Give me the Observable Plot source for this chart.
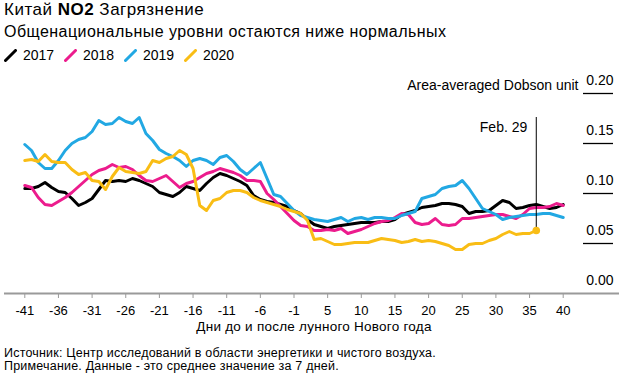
<!DOCTYPE html>
<html><head><meta charset="utf-8">
<script src="https://cdn.jsdelivr.net/npm/d3@7"></script>
<script src="https://cdn.jsdelivr.net/npm/@observablehq/plot@0.6"></script>
<style>
body{margin:0;background:#fff;font-family:"Liberation Sans",Arial,sans-serif;color:#000;}
#wrap{position:relative;width:622px;height:378px;overflow:hidden;background:#fff;}
.t{position:absolute;white-space:nowrap;}
#legend{width:260px;height:18px;}
#legend .item{position:absolute;top:0;display:flex;align-items:center;height:18px;}
#legend svg{margin-right:6px;}
</style></head><body>
<div id="wrap">
<div class="t" style="left:4px;top:0px;font-size:17px;line-height:20px;letter-spacing:0.5px;">Китай <b>NO2</b> Загрязнение</div>
<div class="t" style="left:4px;top:22px;font-size:16px;line-height:20px;letter-spacing:0.45px;">Общенациональные уровни остаются ниже нормальных</div>
<div class="t" id="legend" style="left:0px;top:46px;font-size:14px;line-height:18px;"></div>
<div id="chart" style="position:absolute;left:0;top:66px;"></div>
<div class="t" id="xlabel" style="left:314px;top:319px;transform:translateX(-50%);font-size:13.5px;line-height:16px;letter-spacing:0.25px;"></div>
<div class="t" id="note1" style="left:4px;top:346px;font-size:12.5px;line-height:14px;letter-spacing:0.2px;"></div>
<div class="t" id="note2" style="left:4px;top:359px;font-size:12.5px;line-height:14px;letter-spacing:0.2px;"></div>
</div>
<script>
const years = ["2017", "2018", "2019", "2020"];
const colors = ["#000000", "#ec1c8d", "#22a8e3", "#f9bd15"];
const days = [-41,-40,-39,-38,-37,-36,-35,-34,-33,-32,-31,-30,-29,-28,-27,-26,-25,-24,-23,-22,-21,-20,-19,-18,-17,-16,-15,-14,-13,-12,-11,-10,-9,-8,-7,-6,-5,-4,-3,-2,-1,
  1,2,3,4,5,6,7,8,9,10,11,12,13,14,15,16,17,18,19,20,21,22,23,24,25,26,27,28,29,30,31,32,33,34,35,36,37,38,39,40];
const v2017 = [.105,.105,.107,.111,.106,.102,.101,.095,.088,.091,.095,.104,.113,.112,.113,.112,.115,.113,.110,.107,.101,.099,.097,.101,.107,.105,.103,.110,.116,.120,.118,.115,.112,.108,.098,.094,.092,.091,.089,.087,.083,
  .080,.074,.069,.067,.065,.067,.068,.069,.070,.071,.071,.071,.072,.072,.074,.079,.081,.083,.086,.087,.088,.090,.090,.089,.087,.080,.082,.082,.083,.088,.093,.091,.085,.086,.088,.089,.087,.085,.086,.089];
const v2018 = [.108,.106,.096,.089,.088,.092,.096,.101,.107,.113,.119,.123,.125,.129,.126,.127,.124,.118,.113,.112,.115,.118,.112,.106,.110,.112,.116,.120,.122,.125,.123,.121,.118,.113,.113,.112,.100,.094,.087,.080,.073,
  .068,.067,.063,.063,.064,.063,.065,.060,.062,.064,.067,.070,.072,.073,.076,.080,.079,.071,.069,.070,.075,.069,.068,.069,.075,.075,.076,.077,.078,.079,.079,.077,.075,.079,.085,.086,.086,.087,.090,.088];
const v2019 = [.149,.143,.131,.125,.125,.133,.143,.150,.154,.156,.162,.173,.169,.170,.176,.172,.170,.176,.160,.153,.144,.140,.137,.133,.127,.133,.135,.133,.129,.136,.138,.132,.124,.119,.125,.131,.115,.099,.097,.090,.083,
  .078,.076,.074,.073,.072,.074,.076,.072,.075,.076,.074,.076,.076,.075,.075,.078,.080,.082,.095,.097,.099,.105,.107,.108,.113,.105,.095,.085,.082,.079,.074,.076,.077,.078,.079,.079,.080,.080,.078,.076];
const v2020 = [.133,.134,.132,.139,.132,.131,.131,.124,.119,.121,.113,.112,.104,.117,.126,.122,.121,.120,.122,.133,.131,.135,.137,.143,.139,.125,.088,.083,.093,.095,.101,.103,.103,.101,.096,.093,.091,.089,.087,.084,.082,
  .080,.073,.054,.055,.052,.049,.049,.050,.051,.051,.051,.053,.055,.054,.053,.051,.052,.054,.052,.053,.052,.050,.048,.044,.044,.049,.050,.050,.053,.055,.059,.062,.059,.060,.060,.063];
const seriesValues = [v2017, v2018, v2019, v2020];
const tickDays = [-41,-36,-31,-26,-21,-16,-11,-6,-1,5,10,15,20,25,30,35,40];
const yTicks = [0, 0.05, 0.10, 0.15, 0.20];
const yLabel = "Area-averaged Dobson unit";
const xLabel = "Дни до и после лунного Нового года";
const notes = ["Источник: Центр исследований в области энергетики и чистого воздуха.", "Примечание. Данные - это среднее значение за 7 дней."];
const marker = [{day: 36, label: "Feb. 29", year: "2020"}];

// no day 0 on the axis: positions are consecutive days
const idx = d => d < 0 ? d : d - 1;
const dayOf = i => i < 0 ? i : i + 1;

const data = [];
years.forEach((yr, k) => seriesValues[k].forEach((v, i) => data.push({year: yr, x: idx(days[i]), v})));
const markerVal = v2020[v2020.length - 1];

// legend
const legend = document.getElementById("legend");
years.forEach((yr, k) => {
  const it = document.createElement("div");
  it.className = "item";
  it.style.left = (4 + k * 60) + "px";
  it.innerHTML = `<svg width="13" height="13"><line x1="1.5" y1="11.5" x2="11.5" y2="1.5" stroke="${colors[k]}" stroke-width="3" stroke-linecap="round"/></svg><span>${yr}</span>`;
  legend.appendChild(it);
});
document.getElementById("xlabel").textContent = xLabel;
document.getElementById("note1").textContent = notes[0];
document.getElementById("note2").textContent = notes[1];

const chart = Plot.plot({
  width: 622,
  height: 270,
  marginLeft: 4,
  marginRight: 3,
  marginTop: 27,
  marginBottom: 43,
  style: {fontFamily: "'Liberation Sans', Arial, sans-serif", fontSize: "13px", background: "#fff", color: "#000"},
  x: {type: "linear", domain: [idx(-41), idx(40)], range: [24.3, 562.7]},
  y: {domain: [0, 0.2], axis: null},
  color: {domain: years, range: colors},
  marks: [
    Plot.ruleY(yTicks.filter(t => t > 0), {stroke: "#000", strokeWidth: 1.3, insetLeft: 579, insetRight: 6}),
    Plot.text(yTicks, {y: d => d, frameAnchor: "right", dx: -6, dy: -13, textAnchor: "end", text: d => d.toFixed(2), fontSize: 14}),
    Plot.text([yLabel], {frameAnchor: "top-right", dx: -41, dy: -13, textAnchor: "end", text: d => d, fontSize: 14}),
    Plot.ruleY([0], {stroke: "#9a9a9a", strokeWidth: 2}),
    Plot.axisX({ticks: tickDays.map(idx), tickFormat: i => String(dayOf(i)), tickSize: 5, stroke: "#9a9a9a", tickPadding: 7, fontSize: 13, label: null}),
    Plot.line(data, {x: "x", y: "v", z: "year", stroke: "year", strokeWidth: 3, strokeLinejoin: "round"}),
    Plot.ruleX(marker, {x: d => idx(d.day), y1: 0.2, y2: markerVal, insetTop: 24, stroke: "#000", strokeWidth: 1}),
    Plot.dot(marker, {x: d => idx(d.day), y: markerVal, r: 3.8, fill: d => d.year}),
    Plot.text(marker, {x: d => idx(d.day), frameAnchor: "top", dy: 29, dx: -9, textAnchor: "end", text: "label", fontSize: 14})
  ]
});
document.getElementById("chart").appendChild(chart);
</script>
</body></html>
